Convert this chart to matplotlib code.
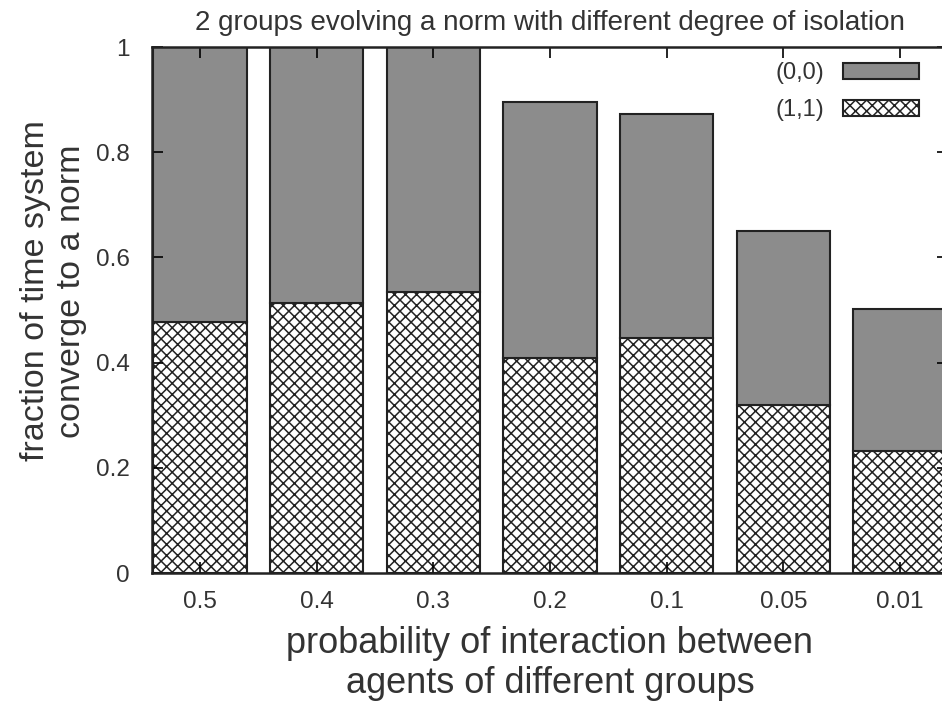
import matplotlib
matplotlib.use("Agg")
import matplotlib.pyplot as plt
import numpy as np

plt.rcParams['font.family'] = ['Liberation Sans', 'DejaVu Sans']
plt.rcParams['hatch.linewidth'] = 1.1

categories = ["0.5", "0.4", "0.3", "0.2", "0.1", "0.05", "0.01"]
conv_11 = [0.477, 0.513, 0.534, 0.409, 0.447, 0.319, 0.232]
conv_00 = [0.523, 0.487, 0.466, 0.486, 0.426, 0.331, 0.270]
yticks = [0, 0.2, 0.4, 0.6, 0.8, 1]
ytick_labels = ["0", "0.2", "0.4", "0.6", "0.8", "1"]

fig = plt.figure(figsize=(9.42, 7.02), dpi=100)
ax = fig.add_axes([152/942, (702-573)/702, 796/942, 526/702])

x = np.arange(len(categories))
ax.bar(x, conv_11, width=0.8, color='white', edgecolor='#222222', hatch='xxx',
       linewidth=1.5, label='(1,1)')
ax.bar(x, conv_00, width=0.8, bottom=conv_11, color='#8c8c8c', edgecolor='#222222',
       linewidth=1.5, label='(0,0)')

ax.set_xlim(-0.41, 6.41)
ax.set_ylim(0, 1)
ax.set_xticks(x)
ax.set_xticklabels(categories, fontsize=17.5, color='#333333')
ax.set_yticks(yticks)
ax.set_yticklabels(ytick_labels, fontsize=17.5, color='#333333')
ax.tick_params(direction='in', length=8, width=1.2, top=True, right=True)
ax.tick_params(axis='x', pad=13)
ax.tick_params(axis='y', pad=16)
for s in ax.spines.values():
    s.set_linewidth(1.8)
    s.set_color('#222222')

ax.set_title("2 groups evolving a norm with different degree of isolation",
             fontsize=20, color='#333333', pad=12)
ax.set_xlabel("probability of interaction between\nagents of different groups",
              fontsize=26, color='#333333', labelpad=9, linespacing=1.22)
ax.set_ylabel("fraction of time system\nconverge to a norm",
              fontsize=24.5, color='#333333', linespacing=1.2)
ax.yaxis.set_label_coords((87-152)/796, (573-291)/526)

handles, labels = ax.get_legend_handles_labels()
leg = ax.legend(handles[::-1], labels[::-1], loc='upper right',
                bbox_to_anchor=((919-152)/796, (573-62)/526), frameon=False,
                markerfirst=False, fontsize=17, handlelength=3.2, handleheight=0.65,
                labelspacing=0.65, handletextpad=0.8, borderpad=0, borderaxespad=0)
for t in leg.get_texts():
    t.set_color('#333333')

fig.savefig("out.png", dpi=100)
